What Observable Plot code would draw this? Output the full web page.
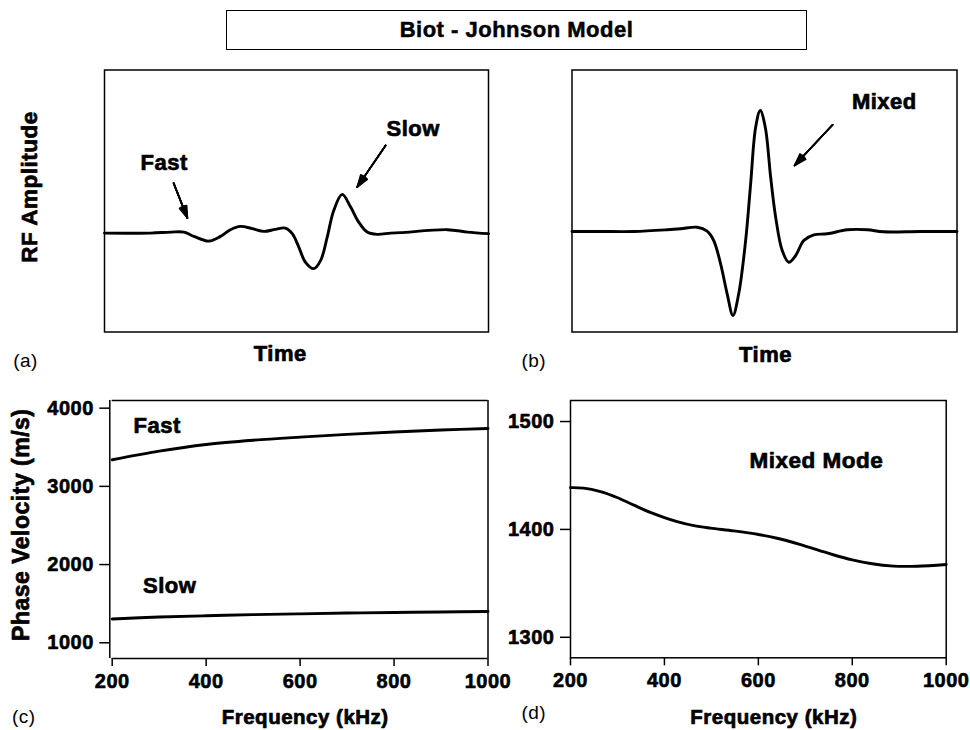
<!DOCTYPE html>
<html>
<head>
<meta charset="utf-8">
<script src="https://cdn.jsdelivr.net/npm/d3@7"></script>
<script src="https://cdn.jsdelivr.net/npm/@observablehq/plot@0.6"></script>
<style>
  body { margin: 0; background: #fff; }
  #root { position: relative; width: 970px; height: 730px; background: #fff; color: #000;
          font-family: "Liberation Sans", Arial, Helvetica, sans-serif; }
  .panel { position: absolute; }
  #title { position: absolute; left: 226px; top: 10px; width: 581px; height: 40px; box-sizing: border-box;
           border: 1.6px solid #000; display: flex; align-items: center; justify-content: center;
           font-weight: bold; font-size: 22px; letter-spacing: 0.5px; -webkit-text-stroke: 0.5px #000; }
</style>
</head>
<body>
<div id="root"><div id="title"></div></div>
<script>
// ---------- DATA ----------
const titleText = "Biot - Johnson Model";

// (a) RF waveform, Biot model: separate fast and slow waves (time and amplitude in arbitrary units)
const timeA = [0, 12.0, 17.2, 20.7, 23.3, 27.2, 30.2, 32.8, 35.4, 38.5, 41.5, 44.5, 47.1, 48.9, 50.6, 52.3, 54.5, 56.3, 58.0, 59.7, 61.9, 64.1, 66.2, 68.4, 71.0, 74.5, 77.1, 89.3, 94.5, 100];
const ampA  = [0, 0.0, 0.01, 0.01, -0.033, -0.08, -0.033, 0.034, 0.067, 0.044, 0.017, 0.037, 0.05, -0.006, -0.14, -0.29, -0.356, -0.273, -0.04, 0.227, 0.387, 0.26, 0.11, 0.01, -0.013, 0.0, 0.004, 0.034, 0.01, -0.006];
const arrowLabelsA = ["Fast", "Slow"];
const arrowFromTA = [18.0, 73.2], arrowFromAmpA = [0.50, 0.877];
const arrowToTA   = [21.6, 65.8], arrowToAmpA   = [0.15, 0.46];

// (b) RF waveform: single mixed mode
const timeB = [0, 7.4, 16.1, 24.7, 28.2, 32.5, 35.1, 36.8, 38.6, 40.3, 41.8, 43.3, 45.1, 46.4, 47.7, 48.9, 50.2, 51.6, 52.9, 54.6, 56.3, 58.1, 60.2, 62.8, 66.3, 71.5, 76.7, 80.9, 90.5, 100];
const ampB  = [0, 0, 0, 0.017, 0.027, 0.043, 0.003, -0.09, -0.323, -0.623, -0.84, -0.623, -0.09, 0.477, 1.043, 1.21, 1.043, 0.543, 0.143, -0.19, -0.307, -0.24, -0.09, -0.033, -0.023, 0.017, 0.017, -0.003, 0, 0];
const arrowLabelB = "Mixed";
const arrowFromTB = [67.7], arrowFromAmpB = [1.067];
const arrowToTB   = [57.8], arrowToAmpB   = [0.66];

// (c) Phase velocity, fast and slow waves (m/s) vs frequency (kHz)
const freqC = [200, 300, 400, 500, 600, 700, 800, 900, 1000];
const fastC = [3340, 3450, 3535, 3590, 3630, 3665, 3695, 3720, 3740];
const slowC = [1305, 1330, 1345, 1360, 1370, 1380, 1388, 1394, 1400];
const yTicksC = [1000, 2000, 3000, 4000];
const yDomainC = [799, 4098];

// (d) Phase velocity, mixed mode
const freqD  = [200, 228, 264, 299, 335, 370, 400, 427, 463, 498, 548, 600, 640, 690, 732, 761, 800, 839, 888, 938, 1000];
const mixedD = [1438.7, 1438.3, 1435, 1429.6, 1422.5, 1415.8, 1411, 1407.3, 1403.5, 1401.2, 1398.6, 1395.3, 1391.8, 1386, 1380.2, 1376.3, 1371.8, 1368.4, 1366, 1365.9, 1367.5];
const yTicksD = [1300, 1400, 1500];
const yDomainD = [1281, 1519.5];

const freqTicks = [200, 400, 600, 800, 1000];

// ---------- RENDER ----------
const FONT = '"Liberation Sans", Arial, Helvetica, sans-serif';
const root = document.getElementById("root");
document.getElementById("title").textContent = titleText;

const baseStyle = {fontFamily: FONT, fontSize: "22px", fontWeight: "bold", letterSpacing: "0.5px",
                   overflow: "visible", background: "transparent", color: "#000", maxWidth: "none"};

function place(plot, left, top) {
  const d = document.createElement("div");
  d.className = "panel";
  d.style.left = left + "px";
  d.style.top = top + "px";
  d.appendChild(plot);
  root.appendChild(d);
}

function label(text, dx, dy, extra = {}) {
  return Plot.text([text], {frameAnchor: "top-left", dx, dy, text: d => d,
    textAnchor: "middle", lineAnchor: "middle", fontSize: 22, fontWeight: "bold",
    fill: "black", stroke: "black", strokeWidth: 0.7, ...extra});
}
const tag = (t, dx, dy) => Plot.text([t], {frameAnchor: "top-left", dx, dy, text: d => d,
    textAnchor: "middle", lineAnchor: "middle", fontSize: 19, fontWeight: "normal", fill: "black"});

// filled-looking arrowheads: a fan of heads with decreasing angles
function arrows(data, opts) {
  return [36, 27, 18, 9, 2].map(a => Plot.arrow(data, {...opts, strokeWidth: 1.6, headLength: 12, headAngle: a}));
}

const axisText = {fontSize: 20, textStroke: "black", textStrokeWidth: 0.6};

// Panel (a)
place(Plot.plot({
  width: 500, height: 320,
  marginLeft: 104, marginRight: 12, marginTop: 9.5, marginBottom: 48.5,
  x: {domain: [0, 100], axis: null},
  y: {domain: [-0.99, 1.632], axis: null},
  style: baseStyle,
  marks: [
    Plot.frame({strokeWidth: 1.5}),
    Plot.line(ampA, {x: timeA, y: ampA, curve: "catmull-rom", strokeWidth: 2.9}),
    ...arrows(arrowLabelsA, {x1: arrowFromTA, y1: arrowFromAmpA, x2: arrowToTA, y2: arrowToAmpA}),
    label("Fast", 59.7, 92.7),
    label("Slow", 308.7, 59.3),
    label("RF Amplitude", -75, 117, {rotate: -90, fontSize: 22.5}),
    label("Time", 175.7, 284.3),
    tag("(a)", -79, 290.5)
  ]
}), 0, 60);

// Panel (b)
place(Plot.plot({
  width: 470, height: 320,
  marginLeft: 71.5, marginRight: 13.5, marginTop: 9.5, marginBottom: 48.5,
  x: {domain: [0, 100], axis: null},
  y: {domain: [-1.005, 1.615], axis: null},
  style: baseStyle,
  marks: [
    Plot.frame({strokeWidth: 1.5}),
    Plot.line(ampB, {x: timeB, y: ampB, curve: "catmull-rom", strokeWidth: 2.9}),
    ...arrows([arrowLabelB], {x1: arrowFromTB, y1: arrowFromAmpB, x2: arrowToTB, y2: arrowToAmpB}),
    label(arrowLabelB, 312.3, 32.2),
    label("Time", 193.5, 284.7),
    tag("(b)", -38.2, 290.5)
  ]
}), 500, 60);

// Panel (c)
place(Plot.plot({
  width: 500, height: 350,
  marginLeft: 111.7, marginRight: 12.5, marginTop: 20, marginBottom: 72,
  x: {domain: [200, 1000]},
  y: {domain: yDomainC},
  style: baseStyle,
  marks: [
    Plot.ruleY(yDomainC, {strokeWidth: 1.5}),
    Plot.ruleX([1000], {strokeWidth: 1.5}),
    Plot.ruleX([200], {strokeWidth: 1.5, dx: -2.4}),
    Plot.axisX({ticks: freqTicks, tickFormat: d => String(d), tickSize: 8, tickPadding: 7, label: null, strokeWidth: 1.5, ...axisText}),
    Plot.axisY({ticks: yTicksC, tickFormat: d => String(d), tickSize: 10, tickPadding: 6, dx: -2.4, label: null, strokeWidth: 1.5, ...axisText}),
    Plot.line(fastC, {x: freqC, y: fastC, curve: "catmull-rom", strokeWidth: 2.9}),
    Plot.line(slowC, {x: freqC, y: slowC, curve: "catmull-rom", strokeWidth: 2.9}),
    label("Fast", 45, 25.8),
    label("Slow", 57.5, 185.8),
    label("Phase Velocity (m/s)", -90.7, 124.2, {rotate: -90, fontSize: 23}),
    label("Frequency (kHz)", 193, 316.7, {fontSize: 20.5}),
    tag("(c)", -88.4, 316)
  ]
}), 0, 380);

// Panel (d)
place(Plot.plot({
  width: 470, height: 350,
  marginLeft: 70, marginRight: 24.3, marginTop: 20, marginBottom: 72.7,
  x: {domain: [200, 1000]},
  y: {domain: yDomainD},
  style: baseStyle,
  marks: [
    Plot.frame({strokeWidth: 1.5}),
    Plot.axisX({ticks: freqTicks, tickFormat: d => String(d), tickSize: 8, tickPadding: 7, label: null, strokeWidth: 1.5, ...axisText}),
    Plot.axisY({ticks: yTicksD, tickFormat: d => String(d), tickSize: 10, tickPadding: 6, label: null, strokeWidth: 1.5, ...axisText}),
    Plot.line(mixedD, {x: freqD, y: mixedD, curve: "catmull-rom", strokeWidth: 2.9}),
    label("Mixed Mode", 245.8, 60, {fontSize: 22.5}),
    label("Frequency (kHz)", 203.3, 316.7, {fontSize: 20.5}),
    tag("(d)", -36.7, 312.5)
  ]
}), 500, 380);
</script>
</body>
</html>
